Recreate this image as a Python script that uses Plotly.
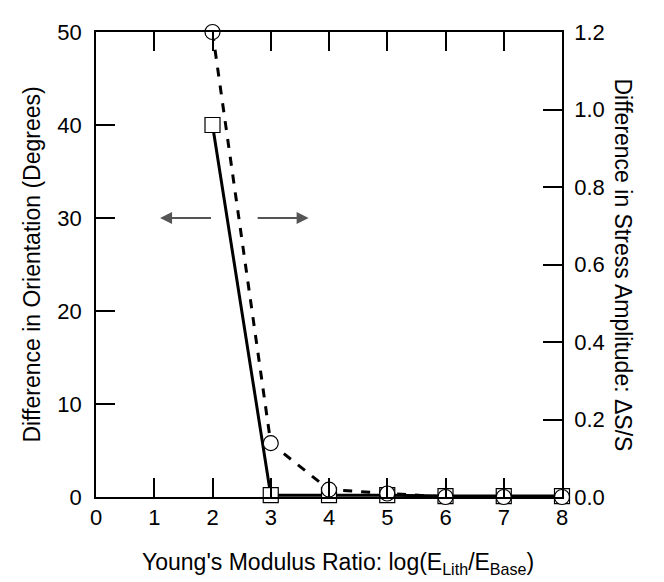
import plotly.graph_objects as go

ratio = [2, 3, 4, 5, 6, 7, 8]
orient_diff = [40, 0.2, 0.2, 0.2, 0.1, 0.1, 0.1]
stress_diff = [1.2, 0.139, 0.019, 0.009, 0.0, 0.0, 0.0]

x_ticks = [0, 1, 2, 3, 4, 5, 6, 7, 8]
left_ticks = [0, 10, 20, 30, 40, 50]
right_ticks = [0.0, 0.2, 0.4, 0.6, 0.8, 1.0, 1.2]

FONT = "Liberation Sans, Arial, Helvetica, sans-serif"

fig = go.Figure()
fig.add_trace(go.Scatter(
    x=ratio, y=orient_diff, mode="lines+markers", cliponaxis=False,
    line=dict(color="black", width=3),
    marker=dict(symbol="square", size=15, color="white", line=dict(color="black", width=1.2)),
    showlegend=False))
fig.add_trace(go.Scatter(
    x=ratio, y=stress_diff, mode="lines+markers", yaxis="y2", cliponaxis=False,
    line=dict(color="black", width=3, dash="dash"),
    marker=dict(symbol="circle", size=15, color="white", line=dict(color="black", width=1.2)),
    showlegend=False))

axis_common = dict(showgrid=False, zeroline=False, showline=True, linecolor="black",
                   linewidth=1.5, ticks="inside", ticklen=19, tickwidth=1.5, tickcolor="black",
                   automargin=False,
                   tickfont=dict(family=FONT, size=22, color="black"))

fig.update_layout(
    width=664, height=582,
    margin=dict(l=88, r=110, t=24, b=93),
    plot_bgcolor="white", paper_bgcolor="white",
    font=dict(family=FONT, color="black"),
    xaxis=dict(range=[0, 8], tickvals=x_ticks, mirror="ticks", ticklabelstandoff=0, **axis_common),
    yaxis=dict(range=[0, 50], tickvals=left_ticks, ticklabelstandoff=8,
               title=dict(text="Difference in Orientation (Degrees)", font=dict(size=23), standoff=10),
               **axis_common),
    yaxis2=dict(range=[0, 1.2], tickvals=right_ticks, tickformat=".1f", overlaying="y",
                side="right", ticklabelstandoff=6, **axis_common),
    annotations=[
        dict(text="Young's Modulus Ratio: log(E<sub>Lith</sub>/E<sub>Base</sub>)",
             xref="paper", yref="paper", x=0.52, y=-0.142, yanchor="middle", showarrow=False,
             font=dict(size=23, family=FONT)),
        dict(text="Difference in Stress Amplitude: \u0394S/S", xref="paper", yref="paper",
             x=1.0, xshift=76, y=0.5, textangle=90, showarrow=False,
             font=dict(size=23, family=FONT)),
        dict(x=1.1, y=30, ax=2.0, ay=30, xref="x", yref="y", axref="x", ayref="y",
             showarrow=True, arrowhead=2, arrowsize=1.2, arrowwidth=2, arrowcolor="#555555", text=""),
        dict(x=3.65, y=30, ax=2.75, ay=30, xref="x", yref="y", axref="x", ayref="y",
             showarrow=True, arrowhead=2, arrowsize=1.2, arrowwidth=2, arrowcolor="#555555", text=""),
    ],
)

fig.write_html("out.html")
